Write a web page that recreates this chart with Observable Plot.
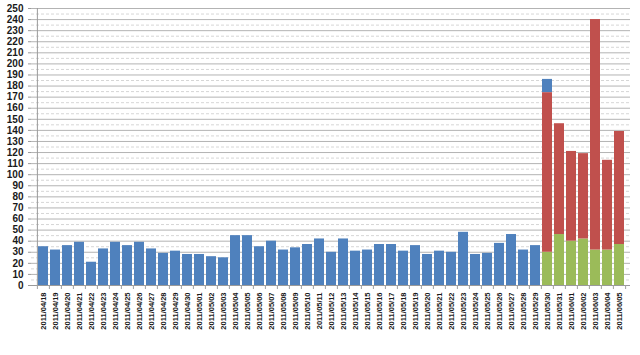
<!DOCTYPE html>
<html><head><meta charset="utf-8">
<script src="https://cdn.jsdelivr.net/npm/d3@7"></script>
<script src="https://cdn.jsdelivr.net/npm/@observablehq/plot@0.6"></script>
<style>body{margin:0;background:#fff} svg{display:block}</style>
</head><body><div id="chart"></div>
<script>
const dates = [
  "2011/04/18","2011/04/19","2011/04/20","2011/04/21","2011/04/22","2011/04/23","2011/04/24",
  "2011/04/25","2011/04/26","2011/04/27","2011/04/28","2011/04/29","2011/04/30","2011/05/01",
  "2011/05/02","2011/05/03","2011/05/04","2011/05/05","2011/05/06","2011/05/07","2011/05/08",
  "2011/05/09","2011/05/10","2011/05/11","2011/05/12","2011/05/13","2011/05/14","2011/05/15",
  "2011/05/16","2011/05/17","2011/05/18","2011/05/19","2011/05/20","2011/05/21","2011/05/22",
  "2011/05/23","2011/05/24","2011/05/25","2011/05/26","2011/05/27","2011/05/28","2011/05/29",
  "2011/05/30","2011/05/31","2011/06/01","2011/06/02","2011/06/03","2011/06/04","2011/06/05"
];
// series A (blue): 2011/04/18 .. 2011/05/30
const seriesAValues = [35,32,36,39,21,33,39,36,39,33,29,31,28,28,26,25,45,45,35,40,32,34,37,42,30,42,31,32,37,37,31,36,28,31,30,48,28,29,38,46,32,36,12];
// series B (green) and C (red): 2011/05/30 .. 2011/06/05
const stackDates = ["2011/05/30","2011/05/31","2011/06/01","2011/06/02","2011/06/03","2011/06/04","2011/06/05"];
const seriesBValues = [30,46,40,42,32,32,37];
const seriesCValues = [144,100,81,77,208,81,102];
const seriesNames = ["A", "B", "C"];
const seriesColors = ["#4f81bd", "#9bbb59", "#c0504d"];
const yTicks = d3.range(0, 251, 10);

const rows = [];
seriesAValues.forEach((v, i) => rows.push({date: dates[i], series: "A", value: v}));
stackDates.forEach((d, i) => {
  rows.push({date: d, series: "B", value: seriesBValues[i]});
  rows.push({date: d, series: "C", value: seriesCValues[i]});
});

const width = 640, height = 355;
const marginLeft = 31, marginRight = 10, marginTop = 8, marginBottom = 70;
const step = (width - marginLeft - marginRight) / dates.length;

const chart = Plot.plot({
  width, height, marginLeft, marginRight, marginTop, marginBottom,
  style: {fontFamily: "'Liberation Sans', Arial, sans-serif", color: "#1a1a1a", background: "#fff"},
  x: {domain: dates, paddingInner: 0.2, paddingOuter: 0.1, label: null},
  y: {domain: [0, 250], label: null},
  color: {type: "ordinal", domain: seriesNames, range: seriesColors},
  marks: [
    Plot.ruleY(d3.range(5, 250, 10), {stroke: "#d6d6d6", strokeDasharray: "3,2"}),
    Plot.ruleY(yTicks.slice(1), {stroke: "#b3b3b3"}),
    Plot.barY(rows, {x: "date", y: "value", fill: "series", order: ["B", "C", "A"]}),
    Plot.ruleY([0], {stroke: "#9a9a9a"}),
    Plot.ruleX([dates[0]], {dx: -step / 2, stroke: "#9a9a9a"}),
    Plot.axisY({ticks: yTicks, tickSize: 3, tickPadding: 5, stroke: "#9a9a9a", fontWeight: "bold", fontSize: 10, fill: "#1a1a1a"}),
    Plot.axisX({tickSize: 4, dx: -step / 2, stroke: "#a0a0a0", fill: "none"}),
    Plot.axisX({ticks: [dates[dates.length - 1]], tickSize: 4, dx: step / 2, stroke: "#a0a0a0", fill: "none"}),
    Plot.axisX({tickSize: 0, tickPadding: 7, tickRotate: -90, fontWeight: "bold", fontSize: 7.5, fill: "#1a1a1a"})
  ]
});
document.getElementById("chart").appendChild(chart);
</script>
</body></html>
